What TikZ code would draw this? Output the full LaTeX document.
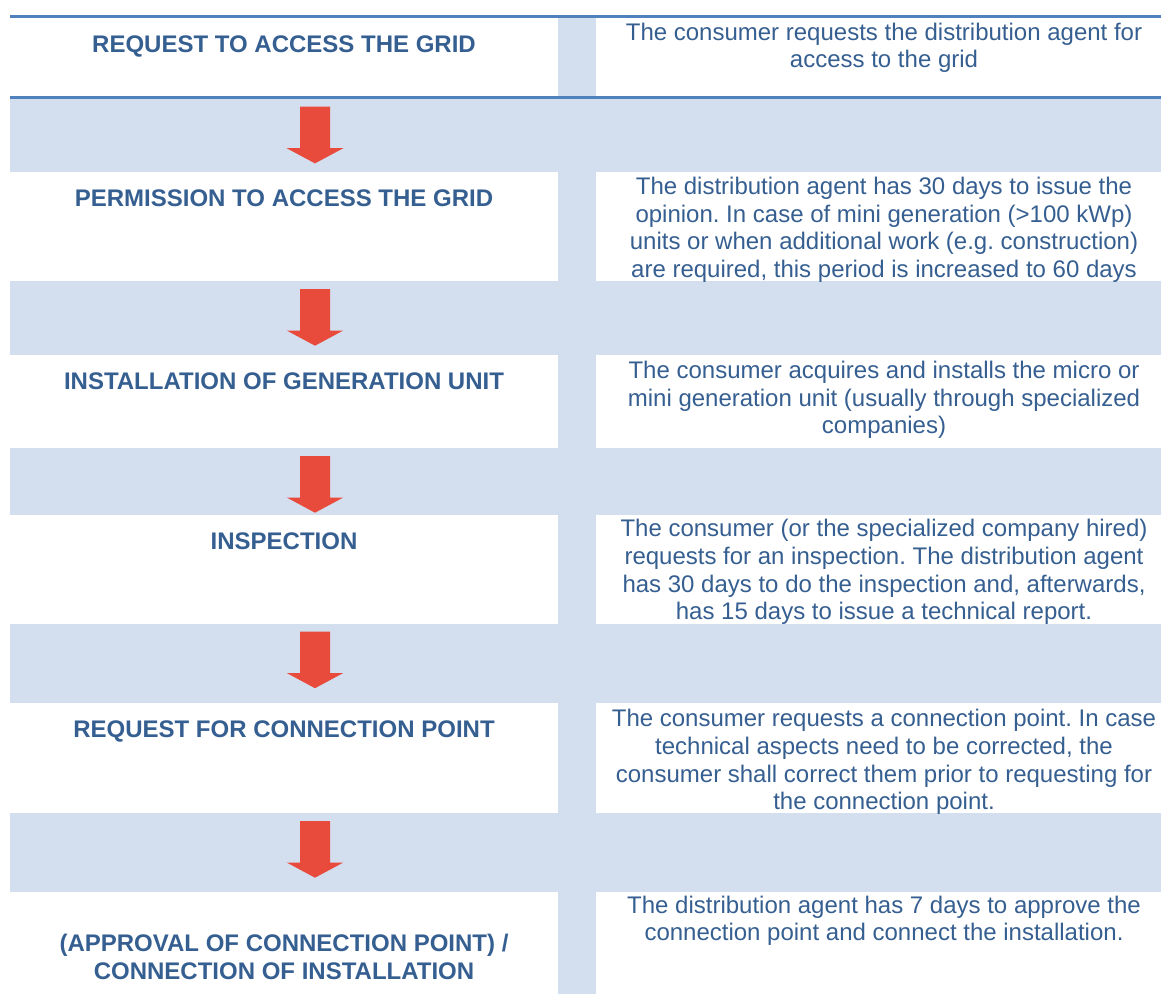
\documentclass[tikz,border=0pt]{standalone}
\usepackage{fontspec}
\setmainfont{Liberation Sans}
\frenchspacing
\definecolor{band}{HTML}{D3DFEE}
\definecolor{rulecol}{HTML}{4F81BD}
\definecolor{ink}{HTML}{365F91}
\definecolor{arrowred}{HTML}{E84B3C}
\tikzset{
  titletext/.style={font=\fontsize{24}{27.6}\selectfont\bfseries\frenchspacing, text=ink, inner sep=0pt, align=center},
  desctext/.style={font=\fontsize{24}{27.6}\selectfont\frenchspacing, text=ink, inner sep=0pt, align=center, anchor=north},
  bandfill/.style={fill=band, draw=none},
  toprule/.style={draw=rulecol, line width=2.6pt},
  flowarrow/.pic={\fill[arrowred] (-15,0) -- (15,0) -- (15,41.5) -- (28.3,41.5) -- (0,56.7) -- (-28.3,41.5) -- (-15,41.5) -- cycle;}
}
\begin{document}
\begin{tikzpicture}[x=1pt, y=-1pt]
\useasboundingbox (0,0) rectangle (1161,994);
\fill[white] (0,0) rectangle (1161,994);
% shaded bands
\fill[bandfill] (10,97) rectangle (1161,172);
\fill[bandfill] (10,281) rectangle (1161,355);
\fill[bandfill] (10,448) rectangle (1161,515);
\fill[bandfill] (10,624) rectangle (1161,703);
\fill[bandfill] (10,813) rectangle (1161,892);
% middle column bar
\fill[bandfill] (558,16) rectangle (596,994);
% rules
\draw[toprule] (10,16.2) -- (1161,16.2);
\draw[toprule] (10,97.2) -- (1161,97.2);
% arrows
\pic at (315,106.7) {flowarrow};
\pic at (315,289) {flowarrow};
\pic at (315,456) {flowarrow};
\pic at (315,631.5) {flowarrow};
\pic at (315,821) {flowarrow};
% titles
\node[titletext, anchor=base] (t1) at (284,52.3) {REQUEST TO ACCESS THE GRID};
\node[titletext, anchor=base] (t2) at (284,206.7) {PERMISSION TO ACCESS THE GRID};
\node[titletext, anchor=base] (t3) at (284,389) {INSTALLATION OF GENERATION UNIT};
\node[titletext, anchor=base] (t4) at (284,549.3) {INSPECTION};
\node[titletext, anchor=base] (t5) at (284,737.3) {REQUEST FOR CONNECTION POINT};
\node[titletext, anchor=north] (t6) at (284,932.4) {\strut(APPROVAL OF CONNECTION POINT) /\\CONNECTION OF INSTALLATION};
% descriptions
\node[desctext] (d1) at (884,20.7) {\strut The consumer requests the distribution agent for\\access to the grid};
\node[desctext] (d2) at (884,175) {\strut The distribution agent has 30 days to issue the\\opinion. In case of mini generation (>100 kWp)\\units or when additional work (e.g. construction)\\are required, this period is increased to 60 days};
\node[desctext] (d3) at (884,359) {\strut The consumer acquires and installs the micro or\\mini generation unit (usually through specialized\\companies)};
\node[desctext] (d4) at (884,517.4) {\strut The consumer (or the specialized company hired)\\requests for an inspection. The distribution agent\\has 30 days to do the inspection and, afterwards,\\has 15 days to issue a technical report.};
\node[desctext] (d5) at (884,707.4) {\strut The consumer requests a connection point. In case\\technical aspects need to be corrected, the\\consumer shall correct them prior to requesting for\\the connection point.};
\node[desctext] (d6) at (884,893.7) {\strut The distribution agent has 7 days to approve the\\connection point and connect the installation.};
\end{tikzpicture}
\end{document}
